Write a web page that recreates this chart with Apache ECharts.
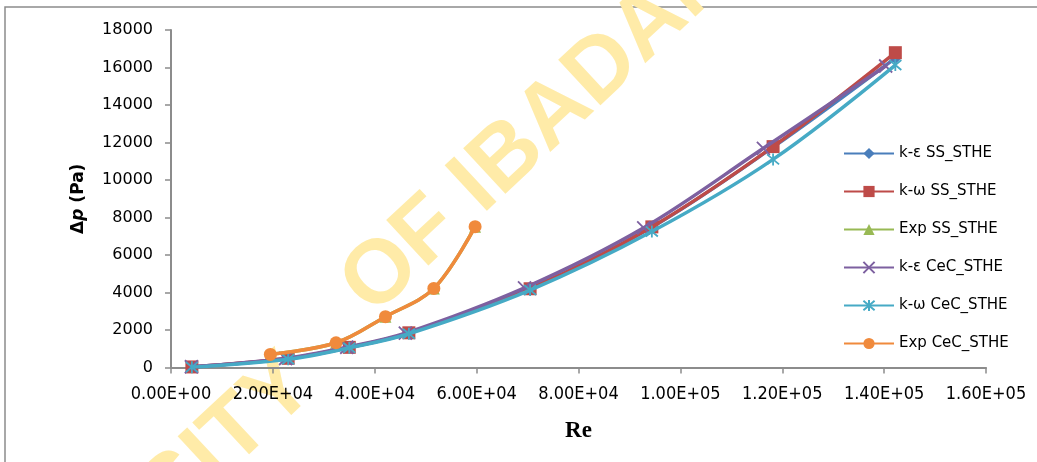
<!DOCTYPE html>
<html>
<head>
<meta charset="utf-8">
<script src="https://cdn.jsdelivr.net/npm/echarts@6/dist/echarts.min.js"></script>
<style>
  html, body { margin: 0; padding: 0; background: #fff; }
  #chart { width: 1037px; height: 462px; }
</style>
</head>
<body>
<div id="chart"></div>
<script>
// Pressure drop vs Reynolds number for shell-and-tube heat exchangers
const seriesNames = ['k-ε SS_STHE', 'k-ω SS_STHE', 'Exp SS_STHE', 'k-ε CeC_STHE', 'k-ω CeC_STHE', 'Exp CeC_STHE'];

// Simulation results (Re, Δp in Pa)
const reKeSS   = [4100, 23000, 35000, 46700, 70500, 94400, 118200, 142200];
const dpKeSS   = [30, 480, 1070, 1840, 4220, 7480, 11750, 16500];
const reKwSS   = [4100, 23000, 35000, 46700, 70500, 94400, 118200, 142200];
const dpKwSS   = [30, 490, 1075, 1850, 4200, 7500, 11780, 16790];
const reKeCeC  = [4000, 22500, 34500, 46000, 69400, 92800, 116300, 140300];
const dpKeCeC  = [40, 480, 1080, 1830, 4250, 7450, 11690, 16080];
const reKwCeC  = [4100, 23000, 35000, 46700, 70500, 94400, 118200, 142200];
const dpKwCeC  = [20, 440, 1050, 1800, 4130, 7250, 11100, 16130];

// Experimental measurements
const reExpSS  = [19500, 32400, 42100, 51600, 59700];
const dpExpSS  = [700, 1320, 2710, 4220, 7510];
const reExpCeC = [19500, 32400, 42100, 51600, 59700];
const dpExpCeC = [700, 1320, 2710, 4220, 7510];

const xTicks = { min: 0, max: 160000, interval: 20000 };
const yTicks = { min: 0, max: 18000, interval: 2000 };

const colors = ['#4A7EBB', '#BE4B48', '#98B954', '#7D60A0', '#46AAC5', '#F08A3C'];

const pair = (xs, ys) => xs.map((x, i) => [x, ys[i]]);

function sci(v) {
  if (v === 0) return '0.00E+00';
  const e = Math.floor(Math.log10(Math.abs(v)) + 1e-9);
  const m = v / Math.pow(10, e);
  return m.toFixed(2) + 'E' + (e < 0 ? '-' : '+') + String(Math.abs(e)).padStart(2, '0');
}

const crossPath = 'path://M0,0L10,10M10,0L0,10';
const starPath = 'path://M0,0L10,10M10,0L0,10M5,-1L5,11';

function lineSeries(idx, data, symbol, size, strokeSymbol) {
  return {
    name: seriesNames[idx],
    type: 'line',
    data: data,
    smooth: 0.35,
    symbol: symbol,
    symbolSize: size,
    showAllSymbol: true,
    lineStyle: { color: colors[idx], width: 3.5 },
    itemStyle: strokeSymbol
      ? { color: colors[idx], borderColor: colors[idx], borderWidth: 1.8 }
      : { color: colors[idx], borderWidth: 0 },
    emphasis: { disabled: true },
    z: 2 + idx
  };
}

const watermarkFont = 'bold 90px "Liberation Sans", Arial, sans-serif';
const watermarkAngle = 43 * Math.PI / 180;

const chart = echarts.init(document.getElementById('chart'), null, { renderer: 'canvas' });

chart.setOption({
  animation: false,
  backgroundColor: '#ffffff',
  graphic: [
    {
      type: 'rect',
      z: -20,
      silent: true,
      shape: { x: 5, y: 7, width: 1100, height: 520 },
      style: { fill: 'none', stroke: '#8c8c8c', lineWidth: 1.5 }
    },
    {
      type: 'text',
      z: -10,
      silent: true,
      x: 301,
      y: 372,
      rotation: watermarkAngle,
      style: {
        text: 'UNIVERSITY',
        fill: '#FFEBA8',
        font: watermarkFont,
        textAlign: 'right',
        textVerticalAlign: 'middle'
      }
    },
    {
      type: 'text',
      z: -10,
      silent: true,
      x: 356,
      y: 299,
      rotation: watermarkAngle,
      style: {
        text: 'OF IBADAN',
        fill: '#FFEBA8',
        font: watermarkFont,
        textAlign: 'left',
        textVerticalAlign: 'middle'
      }
    }
  ],
  grid: { left: 171, right: 51, top: 30, bottom: 94.5, containLabel: false },
  legend: {
    orient: 'vertical',
    left: 843,
    top: 146,
    padding: 0,
    itemWidth: 50,
    itemHeight: 14,
    itemGap: 23,
    selectedMode: false,
    textStyle: { fontFamily: '"DejaVu Sans", sans-serif', fontSize: 15, color: '#000' },
    data: seriesNames
  },
  xAxis: {
    type: 'value',
    min: xTicks.min,
    max: xTicks.max,
    interval: xTicks.interval,
    name: 'Re',
    nameLocation: 'middle',
    nameGap: 52,
    nameTextStyle: { fontFamily: '"Liberation Serif", "Times New Roman", serif', fontWeight: 'bold', fontSize: 23, color: '#000' },
    axisLine: { show: true, lineStyle: { color: '#8c8c8c', width: 2 } },
    axisTick: { show: true, inside: false, length: 6, lineStyle: { color: '#8c8c8c', width: 1.5 } },
    splitLine: { show: false },
    axisLabel: {
      margin: 18,
      formatter: sci,
      fontFamily: '"DejaVu Sans Condensed", "Liberation Sans Narrow", sans-serif',
      fontSize: 18,
      color: '#000'
    }
  },
  yAxis: {
    type: 'value',
    min: yTicks.min,
    max: yTicks.max,
    interval: yTicks.interval,
    name: '{a|Δ}{b|p}{a| (Pa)}',
    nameLocation: 'middle',
    nameGap: 84,
    nameRotate: 90,
    nameTextStyle: {
      rich: {
        a: { fontFamily: '"DejaVu Sans", sans-serif', fontWeight: 'bold', fontSize: 17, color: '#000' },
        b: { fontFamily: '"DejaVu Sans", sans-serif', fontWeight: 'bold', fontStyle: 'italic', fontSize: 17, color: '#000' }
      }
    },
    axisLine: { show: true, lineStyle: { color: '#8c8c8c', width: 2 } },
    axisTick: { show: true, inside: false, length: 6, lineStyle: { color: '#8c8c8c', width: 1.5 } },
    splitLine: { show: false },
    axisLabel: {
      margin: 18,
      formatter: (v) => String(v),
      fontFamily: '"DejaVu Sans", sans-serif',
      fontSize: 16,
      color: '#000'
    }
  },
  series: [
    lineSeries(0, pair(reKeSS, dpKeSS), 'diamond', 12, false),
    lineSeries(1, pair(reKwSS, dpKwSS), 'rect', 13, false),
    lineSeries(2, pair(reExpSS, dpExpSS), 'triangle', 12, false),
    lineSeries(3, pair(reKeCeC, dpKeCeC), crossPath, 13, true),
    lineSeries(4, pair(reKwCeC, dpKwCeC), starPath, 12, true),
    lineSeries(5, pair(reExpCeC, dpExpCeC), 'circle', 13, false)
  ]
});
</script>
</body>
</html>
